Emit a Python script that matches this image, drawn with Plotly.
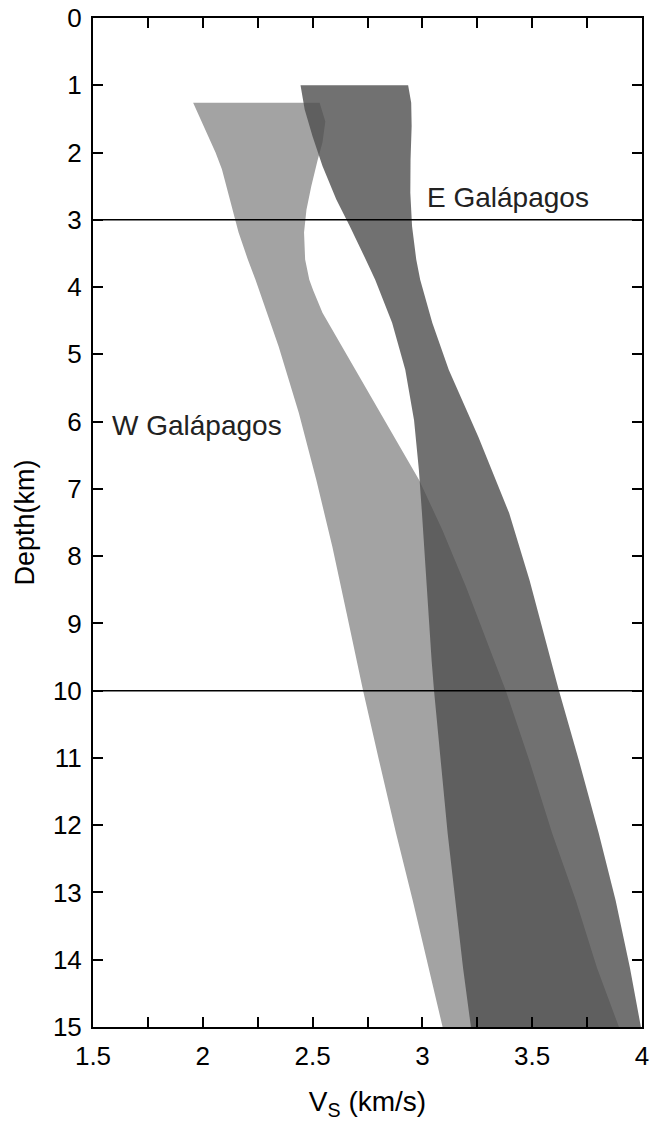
import plotly.graph_objects as go

# ---- data ----
# W Galápagos band (light)
w_left_depth = [1.26, 1.61, 2.0, 2.25, 2.7, 3.19, 3.59, 3.89, 4.88, 5.87, 6.87, 7.86, 8.85, 9.55, 10.0, 11.03, 12.12, 13.12, 14.12, 15.0]
w_left_vs = [1.956, 2.003, 2.058, 2.087, 2.123, 2.163, 2.205, 2.240, 2.345, 2.437, 2.517, 2.590, 2.655, 2.700, 2.730, 2.802, 2.880, 2.956, 3.030, 3.092]
w_right_depth = [1.26, 1.54, 1.85, 2.11, 2.5, 2.85, 3.19, 3.59, 3.89, 4.05, 4.38, 4.7, 5.13, 5.98, 6.53, 6.87, 7.61, 8.46, 9.55, 10.0, 11.03, 12.12, 13.12, 14.12, 15.0]
w_right_vs = [2.532, 2.558, 2.545, 2.523, 2.494, 2.472, 2.461, 2.466, 2.485, 2.503, 2.545, 2.602, 2.680, 2.828, 2.925, 2.985, 3.091, 3.199, 3.327, 3.380, 3.486, 3.591, 3.699, 3.795, 3.895]

# E Galápagos band (dark)
e_left_depth = [1.0, 1.36, 1.76, 2.2, 2.7, 3.1, 3.59, 3.89, 4.53, 5.23, 5.98, 6.72, 7.36, 8.36, 9.55, 10.0, 11.03, 12.12, 13.12, 14.12, 15.0]
e_left_vs = [2.445, 2.464, 2.500, 2.545, 2.608, 2.670, 2.742, 2.785, 2.862, 2.922, 2.962, 2.984, 2.998, 3.017, 3.042, 3.053, 3.083, 3.115, 3.150, 3.185, 3.221]
e_right_depth = [1.0, 1.26, 1.61, 2.11, 2.6, 3.1, 3.59, 3.89, 4.53, 5.23, 6.23, 7.36, 8.36, 9.4, 10.0, 11.03, 12.12, 13.12, 14.12, 15.0]
e_right_vs = [2.935, 2.949, 2.951, 2.946, 2.945, 2.953, 2.972, 2.990, 3.045, 3.120, 3.255, 3.395, 3.488, 3.572, 3.622, 3.712, 3.803, 3.880, 3.945, 3.995]

boundary_depths = [3, 10]
band_labels = ["W Galápagos", "E Galápagos"]
label_vs = [1.577, 3.01]
label_depth = [6.06, 2.67]

x_range = [1.5, 4]
y_range = [15, 0]

FONT = "Arial, Liberation Sans, Helvetica, sans-serif"


def band(ld, lv, rd, rv):
    xs = list(lv) + list(rv)[::-1]
    ys = list(ld) + list(rd)[::-1]
    return xs + [xs[0]], ys + [ys[0]]


fig = go.Figure()

wx, wy = band(w_left_depth, w_left_vs, w_right_depth, w_right_vs)
fig.add_trace(go.Scatter(x=wx, y=wy, mode="lines", fill="toself",
                         fillcolor="rgb(163,163,163)", line=dict(width=0),
                         hoverinfo="skip", showlegend=False))

ex, ey = band(e_left_depth, e_left_vs, e_right_depth, e_right_vs)
fig.add_trace(go.Scatter(x=ex, y=ey, mode="lines", fill="toself",
                         fillcolor="rgba(77,77,77,0.8)", line=dict(width=0),
                         hoverinfo="skip", showlegend=False))

for d in boundary_depths:
    fig.add_hline(y=d, line=dict(color="black", width=1.5))

for txt, xv, yv in zip(band_labels, label_vs, label_depth):
    fig.add_annotation(x=xv, y=yv, text=txt, showarrow=False,
                       xanchor="left", yanchor="middle",
                       font=dict(family=FONT, size=28, color="#222222"))

axis_common = dict(
    showline=True, linecolor="black", linewidth=2, mirror="ticks",
    ticks="inside", ticklen=10, tickwidth=1.5, tickcolor="black",
    showgrid=False, zeroline=False,
    tickfont=dict(family=FONT, size=26, color="black"),
)

fig.update_xaxes(range=x_range, dtick=0.5, tick0=1.5, ticklabelstandoff=5,
                 minor=dict(dtick=0.25, ticks="inside", ticklen=10, tickwidth=1.5,
                            tickcolor="black", showgrid=False),
                 title=dict(text="V<sub>S</sub> (km/s)", standoff=22,
                            font=dict(family=FONT, size=28, color="black")),
                 **axis_common)
fig.update_yaxes(range=y_range, dtick=1, tick0=0, ticklabelstandoff=4,
                 title=dict(text="Depth(km)", standoff=10,
                            font=dict(family=FONT, size=27, color="black")),
                 **axis_common)

fig.update_layout(
    width=652, height=1121,
    margin=dict(l=93, r=10, t=18, b=94, autoexpand=False),
    plot_bgcolor="white", paper_bgcolor="white",
    font=dict(family=FONT, color="black"),
)

fig.write_html("out.html", config={"displayModeBar": False},
               post_script="document.body.style.margin='0';document.body.style.overflow='hidden';")
